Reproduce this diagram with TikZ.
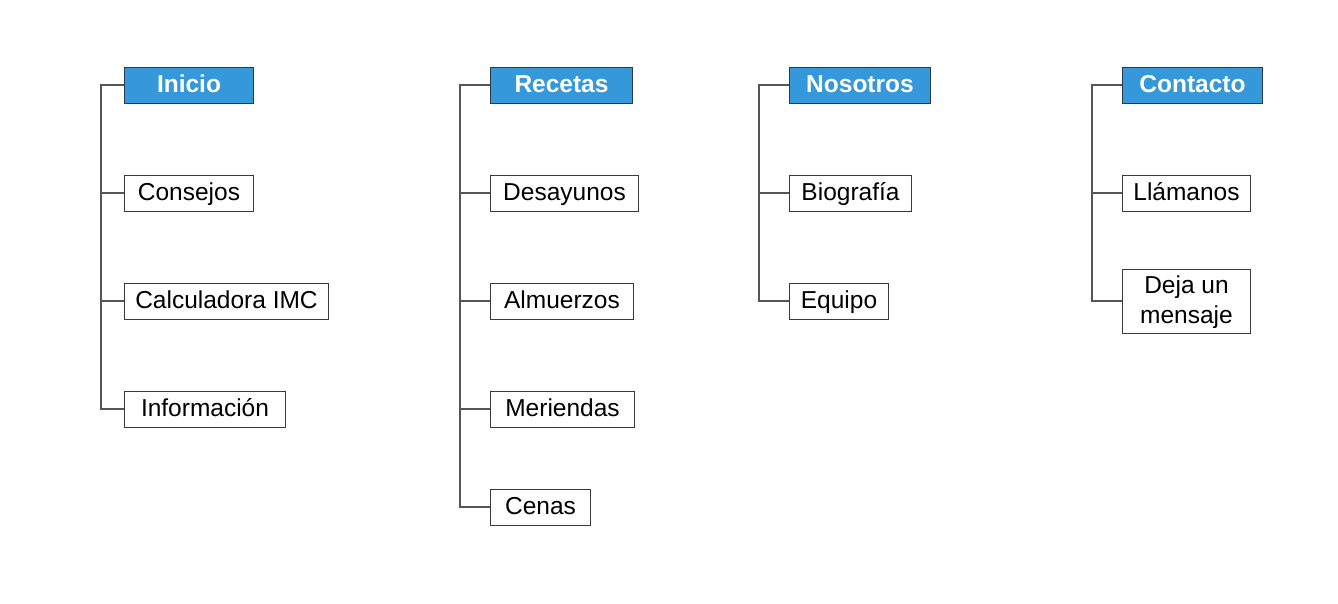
\documentclass[tikz,border=0pt]{standalone}
\usepackage{fontspec}
\setmainfont{Liberation Sans}
\definecolor{hdrblue}{HTML}{3498DB}
\definecolor{hdrline}{HTML}{2B3A4A}
\definecolor{boxline}{HTML}{3A3A3A}
\definecolor{conn}{HTML}{555555}
\begin{document}
\begin{tikzpicture}[x=1pt,y=-1pt,
  base/.style={anchor=west, inner sep=0pt, minimum height=36pt, align=center,
    text height=18pt, text depth=4pt,
    font=\fontsize{24.5}{30}\selectfont, line width=1pt},
  hdr/.style={base, fill=hdrblue, draw=hdrline, text=white, font=\fontsize{24.5}{30}\selectfont\bfseries},
  item/.style={base, fill=white, draw=boxline, text=black},
  conn/.style={draw=conn, line width=1.2pt}]
\useasboundingbox (0,0) rectangle (1338,603);
% Inicio
\node[hdr, minimum width=129pt] (h1) at (124,85) {Inicio};
\node[item, minimum width=129pt] (a1) at (124,193) {Consejos};
\node[item, minimum width=204pt] (a2) at (124,301) {Calculadora IMC};
\node[item, minimum width=161pt] (a3) at (124,409) {Información};
\coordinate (t1) at (101,85);
\draw[conn] (h1.west) -- (t1) |- (a3.west);
\draw[conn] (t1) |- (a1.west);
\draw[conn] (t1) |- (a2.west);
% Recetas
\node[hdr, minimum width=142pt] (h2) at (490,85) {Recetas};
\node[item, minimum width=148pt] (b1) at (490,193) {Desayunos};
\node[item, minimum width=143pt] (b2) at (490,301) {Almuerzos};
\node[item, minimum width=144pt] (b3) at (490,409) {Meriendas};
\node[item, minimum width=100pt] (b4) at (490,507) {Cenas};
\coordinate (t2) at (460,85);
\draw[conn] (h2.west) -- (t2) |- (b4.west);
\draw[conn] (t2) |- (b1.west);
\draw[conn] (t2) |- (b2.west);
\draw[conn] (t2) |- (b3.west);
% Nosotros
\node[hdr, minimum width=141pt] (h3) at (789,85) {Nosotros};
\node[item, minimum width=122pt] (c1) at (789,193) {Biografía};
\node[item, minimum width=99pt] (c2) at (789,301) {Equipo};
\coordinate (t3) at (759,85);
\draw[conn] (h3.west) -- (t3) |- (c2.west);
\draw[conn] (t3) |- (c1.west);
% Contacto
\node[hdr, minimum width=140pt] (h4) at (1122,85) {Contacto};
\node[item, minimum width=128pt] (d1) at (1122,193) {Llámanos};
\node[item, minimum width=128pt, minimum height=64pt, text height=48pt, text depth=4pt] (d2) at (1122,301) {Deja un\\mensaje};
\coordinate (t4) at (1092,85);
\draw[conn] (h4.west) -- (t4) |- (d2.west);
\draw[conn] (t4) |- (d1.west);
\end{tikzpicture}
\end{document}
